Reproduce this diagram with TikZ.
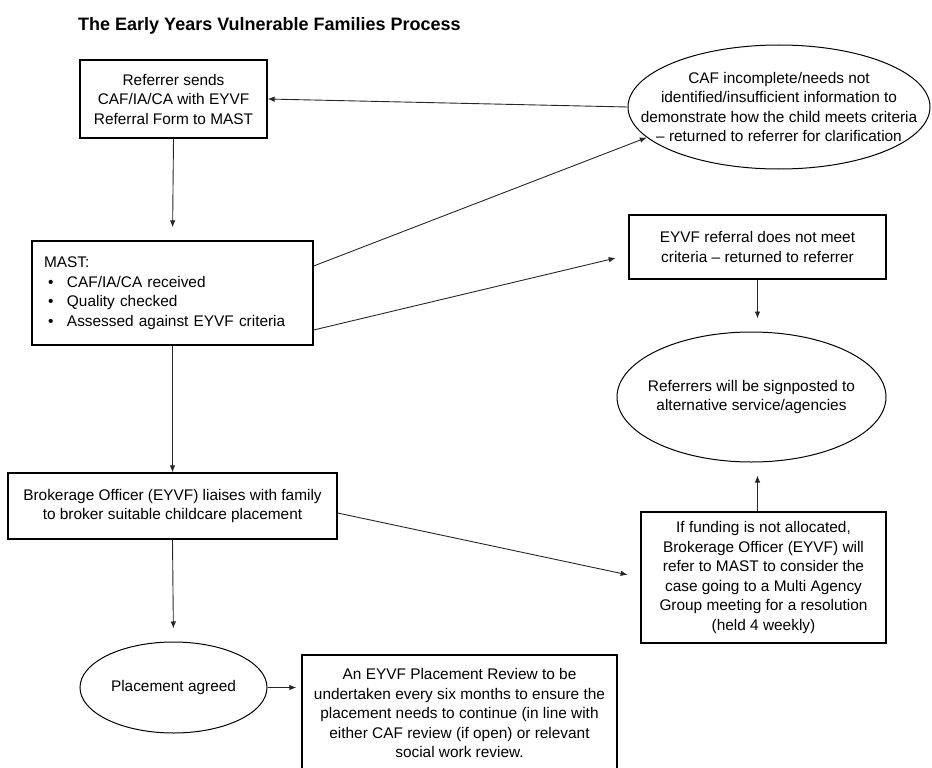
\documentclass[tikz,border=0pt]{standalone}
\usepackage{fontspec}
\setmainfont{Liberation Sans}
\usetikzlibrary{shapes,arrows.meta,calc}
\newcommand{\mastpoint}[1]{\makebox[23pt][l]{\hspace{4pt}\textbullet}#1}

\begin{document}
\begin{tikzpicture}[x=1pt, y=-1pt,
    every node/.style={font=\fontsize{15.4}{19.5}\selectfont},
    box/.style={draw, line width=1.3pt, align=center, inner sep=0pt},
    oval/.style={draw, ellipse, line width=1pt, align=center, inner sep=0pt},
    flow/.style={-{Latex[length=7pt,width=5.5pt]}, line width=0.9pt, black!85},
    gap/.style={shorten >=13pt}]
    \useasboundingbox (0,0) rectangle (932,768);

    % Title
    \node[anchor=west, inner sep=0pt, font=\fontsize{18}{22}\selectfont\bfseries] (title) at (78,26) {The Early Years Vulnerable Families Process};

    % Left column
    \node[box, minimum width=187pt, minimum height=78pt] (refbox) at (173.5,99) {Referrer sends\\CAF/IA/CA with EYVF\\Referral Form to MAST};
    \node[box, align=left, text width=257pt, inner xsep=12pt, minimum height=104pt] (mastbox) at (172.5,293) {MAST:\\\mastpoint{CAF/IA/CA received}\\\mastpoint{Quality checked}\\\mastpoint{Assessed against EYVF criteria}};
    \node[box, minimum width=329pt, minimum height=66pt] (brokbox) at (172.5,506) {Brokerage Officer (EYVF) liaises with family\\to broker suitable childcare placement};
    \node[oval, minimum width=187pt, minimum height=91pt] (placeell) at (173.5,687.5) {Placement agreed};
    \node[box, minimum width=315pt, minimum height=116pt] (reviewbox) at (459.5,713) {An EYVF Placement Review to be\\undertaken every six months to ensure the\\placement needs to continue (in line with\\either CAF review (if open) or relevant\\social work review.};

    % Right column
    \node[oval, minimum width=302pt, minimum height=124pt, inner xsep=-32pt] (cafell) at (779,107) {CAF incomplete/needs not\\identified/insufficient information to\\demonstrate how the child meets criteria\\-- returned to referrer for clarification};
    \node[box, minimum width=257pt, minimum height=64pt] (mismatch) at (757.5,247) {EYVF referral does not meet\\criteria -- returned to referrer};
    \node[oval, minimum width=269pt, minimum height=130pt, inner xsep=-20pt] (signell) at (751.5,397) {Referrers will be signposted to\\alternative service/agencies};
    \node[box, minimum width=245pt, minimum height=131pt] (fundbox) at (763.5,577.5) {If funding is not allocated,\\Brokerage Officer (EYVF) will\\refer to MAST to consider the\\case going to a Multi Agency\\Group meeting for a resolution\\(held 4 weekly)};

    % Arrows
    \draw[flow] (cafell.west) -- (refbox.east);
    \draw[flow, gap] (refbox.south) -- (mastbox.north);
    \draw[flow] ([yshift=27pt]mastbox.east) -- (cafell.193);
    \draw[flow, gap] ([yshift=-37pt]mastbox.east) -- ([yshift=-8pt]mismatch.west);
    \draw[flow, gap] (mismatch.south) -- (mismatch.south |- signell.north);
    \draw[flow] (mastbox.south) -- (brokbox.north);
    \draw[flow, gap] ([yshift=-7pt]brokbox.east) -- (fundbox.west);
    \draw[flow, gap] (fundbox.north -| mismatch.south) -- (mismatch.south |- signell.south);
    \draw[flow, gap] (brokbox.south) -- (placeell.north);
    \draw[flow, shorten >=5pt] (placeell.east) -- (reviewbox.west |- placeell.east);
\end{tikzpicture}
\end{document}
